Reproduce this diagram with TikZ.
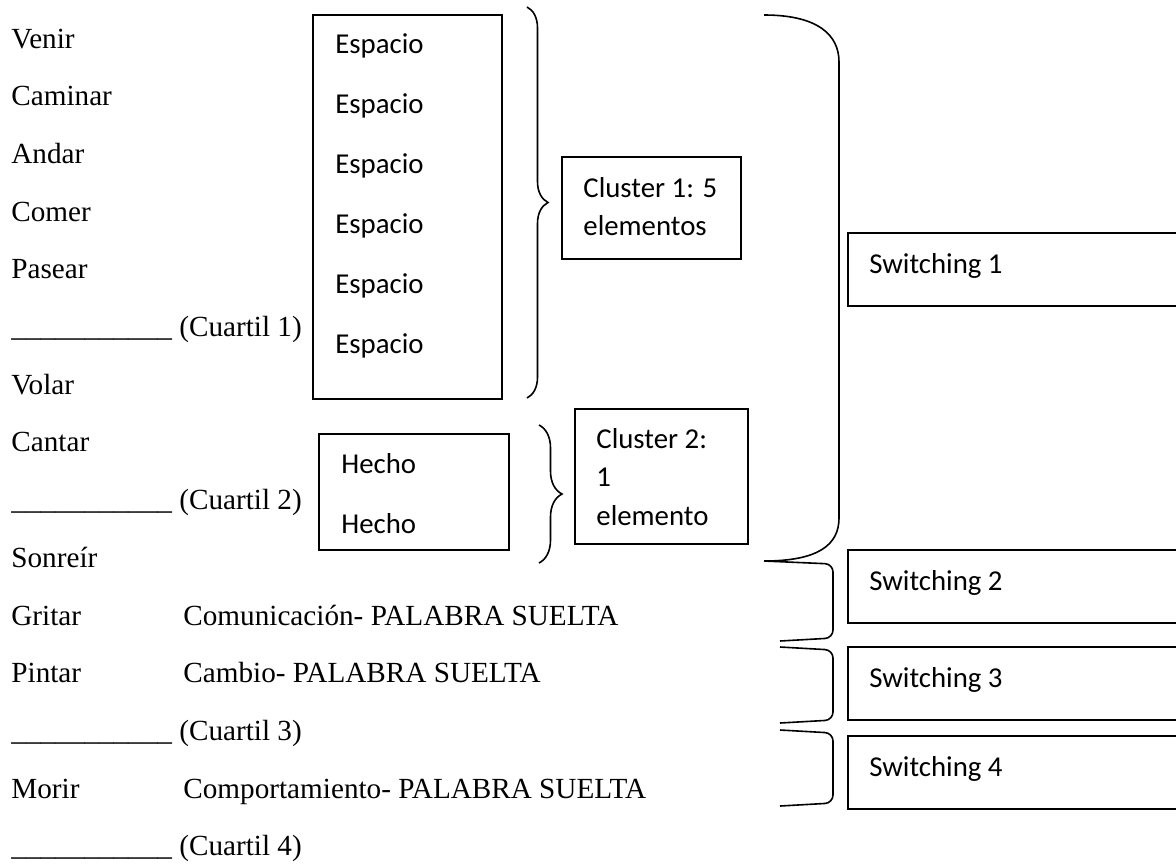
\documentclass[tikz,border=0pt]{standalone}
\usepackage{fontspec}
\setmainfont{Liberation Serif}
\newfontfamily\calibri{Carlito}
\usepackage{tikz}
\usetikzlibrary{decorations.pathreplacing}

\newcommand\cuartilline{\textunderscore\textunderscore\textunderscore\textunderscore\textunderscore\textunderscore\textunderscore\textunderscore\textunderscore\textunderscore\textunderscore}

\tikzset{
  word/.style={anchor=base west, inner sep=0pt, font=\fontsize{14.6pt}{17pt}\selectfont},
  boxtext/.style={anchor=base west, inner sep=0pt, font=\calibri\fontsize{14.4pt}{17pt}\selectfont},
  boxframe/.style={draw, line width=0.9pt, inner sep=0pt, outer sep=0pt, anchor=north west},
  bracket/.style={line width=0.8pt, rounded corners=4pt},
  curly/.style={decorate, decoration={brace, amplitude=#1}, line width=0.8pt},
}

\begin{document}
\begin{tikzpicture}[x=0.5pt, y=-0.5pt]
    \clip (0,0) rectangle (1176,863);
    \fill[white] (0,0) rectangle (1176,863);

    % left column of words
    \foreach \w [count=\k from 0] in {Venir, Caminar, Andar, Comer, Pasear,
        {\cuartilline{} (Cuartil 1)}, Volar, Cantar, {\cuartilline{} (Cuartil 2)},
        Sonreír, Gritar, Pintar, {\cuartilline{} (Cuartil 3)}, Morir,
        {\cuartilline{} (Cuartil 4)}}
        \node[word] (w\k) at (11, 48+57.7*\k) {\w};

    \node[word] (comunic) at (183,625) {Comunicación- PALABRA SUELTA};
    \node[word] (cambio) at (183,682.7) {Cambio- PALABRA SUELTA};
    \node[word] (comport) at (183,798.1) {Comportamiento- PALABRA SUELTA};

    % cluster 1
    \node[boxframe, minimum width=94.5pt, minimum height=192pt] (espbox) at (313,15) {};
    \foreach \k in {0,...,5}
        \node[boxtext] (esp\k) at (335, 53+60*\k) {Espacio};
    \draw[curly=10.5pt] (527,7) -- (527,398);
    \node[boxframe, minimum width=89.5pt, minimum height=51pt] (clu1) at (562,157) {};
    \node[boxtext] (clu1a) at (583,197) {Cluster 1: 5};
    \node[boxtext] (clu1b) at (583,235) {elementos};

    % cluster 2
    \node[boxframe, minimum width=95pt, minimum height=58pt] (hechobox) at (319,434) {};
    \node[boxtext] (hecho1) at (341,473) {Hecho};
    \node[boxtext] (hecho2) at (341,533) {Hecho};
    \draw[curly=11.5pt] (539,425) -- (539,563);
    \node[boxframe, minimum width=86.5pt, minimum height=67.5pt] (clu2) at (575,409) {};
    \node[boxtext] (clu2a) at (596,448) {Cluster 2:};
    \node[boxtext] (clu2b) at (596,486) {1};
    \node[boxtext] (clu2c) at (596,525) {elemento};

    % switching boxes
    \foreach \t/\n in {233/1, 550/2, 647/3, 736/4} {
        \node[boxframe, minimum width=171pt, minimum height=36.5pt] (sw\n) at (848,\t) {};
        \node[boxtext] (swt\n) at (869,\t+40) {Switching \n};
    }

    \draw[line width=0.8pt] (764,15) .. controls (818,15) and (839,35) .. (839,62)
        -- (839,518) .. controls (839,545) and (818,561) .. (764,561);
    \draw[bracket] (764,561) -- (833,564) -- (833,638) -- (780,641);
    \draw[bracket] (780,647) -- (833,650) -- (833,720) -- (780,723);
    \draw[bracket] (780,730) -- (833,733) -- (833,803) -- (780,806);
\end{tikzpicture}
\end{document}
